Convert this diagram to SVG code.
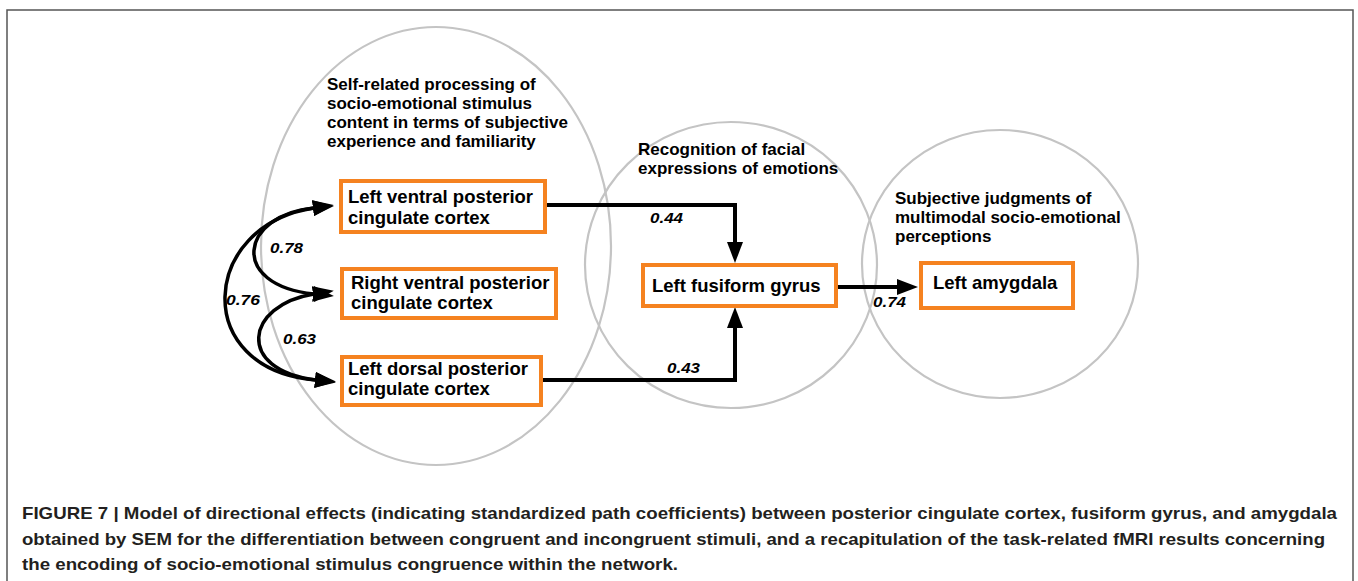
<svg xmlns="http://www.w3.org/2000/svg" width="1358" height="581" viewBox="0 0 1358 581">
<defs>
<marker id="ah" markerUnits="userSpaceOnUse" viewBox="0 0 22 16" markerWidth="22" markerHeight="16" refX="1" refY="8" orient="auto-start-reverse">
<path d="M0,0 L21,8 L0,16 z" fill="#000"/>
</marker>
</defs>
<style>
.frame{fill:#fff;stroke:#555;stroke-width:1.5}
.region{fill:none;stroke:#c4c4c4;stroke-width:2.2}
.box{fill:#fff;stroke:#f58220;stroke-width:4}
.t{font-family:"Liberation Sans",Arial,sans-serif;font-weight:bold;fill:#000}
.node{font-size:18.5px}
.rl{font-size:17px}
.coef{font-family:"Liberation Sans",Arial,sans-serif;font-weight:bold;font-style:italic;font-size:14px;fill:#000}
.cap{font-family:"Liberation Sans",Arial,sans-serif;font-weight:bold;font-size:17px;fill:#231f20}
.conn{fill:none;stroke:#000;stroke-width:4}
.curve{fill:none;stroke:#000;stroke-width:3.5}
</style>
<rect class="frame" x="7" y="10" width="1346" height="600"/>

<g id="regions">
<ellipse id="region-self" class="region" cx="436" cy="246" rx="175" ry="219"/>
<ellipse id="region-recognition" class="region" cx="731" cy="265" rx="146" ry="143"/>
<ellipse id="region-judgment" class="region" cx="1000" cy="264" rx="138" ry="134"/>
<g class="t rl">
<text x="327" y="90">Self-related processing of</text>
<text x="327" y="109">socio-emotional stimulus</text>
<text x="327" y="128">content in terms of subjective</text>
<text x="327" y="147">experience and familiarity</text>
<text x="638" y="155">Recognition of facial</text>
<text x="638" y="174">expressions of emotions</text>
<text x="895" y="204">Subjective judgments of</text>
<text x="895" y="223">multimodal socio-emotional</text>
<text x="895" y="242">perceptions</text>
</g>
</g>

<g id="connectors">
<path class="conn" d="M545 205 H735 V243" marker-end="url(#ah)"/>
<path class="conn" d="M541 380 H735 V327" marker-end="url(#ah)"/>
<path class="conn" d="M838 287 H898" marker-end="url(#ah)"/>
<path class="curve" d="M314 208 C240 215, 228 285, 314 294" marker-start="url(#ah)" marker-end="url(#ah)"/>
<path class="curve" d="M314 294 C245 305, 235 370, 316 380" marker-start="url(#ah)" marker-end="url(#ah)"/>
<path class="curve" d="M314 208 C200 225, 190 370, 316 380" marker-start="url(#ah)" marker-end="url(#ah)"/>
<text class="coef" x="650" y="223" textLength="33" lengthAdjust="spacingAndGlyphs">0.44</text>
<text class="coef" x="667" y="373" textLength="33" lengthAdjust="spacingAndGlyphs">0.43</text>
<text class="coef" x="873" y="307" textLength="33" lengthAdjust="spacingAndGlyphs">0.74</text>
<text class="coef" x="270" y="253" textLength="33" lengthAdjust="spacingAndGlyphs">0.78</text>
<text class="coef" x="226" y="305" textLength="34" lengthAdjust="spacingAndGlyphs">0.76</text>
<text class="coef" x="283" y="344" textLength="33" lengthAdjust="spacingAndGlyphs">0.63</text>
</g>

<g id="node-lvpcc">
<rect class="box" x="341" y="181" width="204" height="51"/>
<text class="t node" x="348" y="203">Left ventral posterior</text>
<text class="t node" x="348" y="224">cingulate cortex</text>
</g>
<g id="node-rvpcc">
<rect class="box" x="342" y="269" width="214" height="49"/>
<text class="t node" x="351" y="289">Right ventral posterior</text>
<text class="t node" x="351" y="309">cingulate cortex</text>
</g>
<g id="node-ldpcc">
<rect class="box" x="342" y="357" width="199" height="48"/>
<text class="t node" x="348" y="375">Left dorsal posterior</text>
<text class="t node" x="348" y="395">cingulate cortex</text>
</g>
<g id="node-lfg">
<rect class="box" x="643" y="265" width="193" height="41"/>
<text class="t node" x="652" y="292">Left fusiform gyrus</text>
</g>
<g id="node-lamy">
<rect class="box" x="921" y="263" width="152" height="45"/>
<text class="t node" x="933" y="289">Left amygdala</text>
</g>

<g id="caption">
<text class="cap" x="22" y="519" textLength="1315" lengthAdjust="spacingAndGlyphs">FIGURE 7 | Model of directional effects (indicating standardized path coefficients) between posterior cingulate cortex, fusiform gyrus, and amygdala</text>
<text class="cap" x="22" y="545" textLength="1303" lengthAdjust="spacingAndGlyphs">obtained by SEM for the differentiation between congruent and incongruent stimuli, and a recapitulation of the task-related fMRI results concerning</text>
<text class="cap" x="22" y="570" textLength="656" lengthAdjust="spacingAndGlyphs">the encoding of socio-emotional stimulus congruence within the network.</text>
</g>
</svg>
